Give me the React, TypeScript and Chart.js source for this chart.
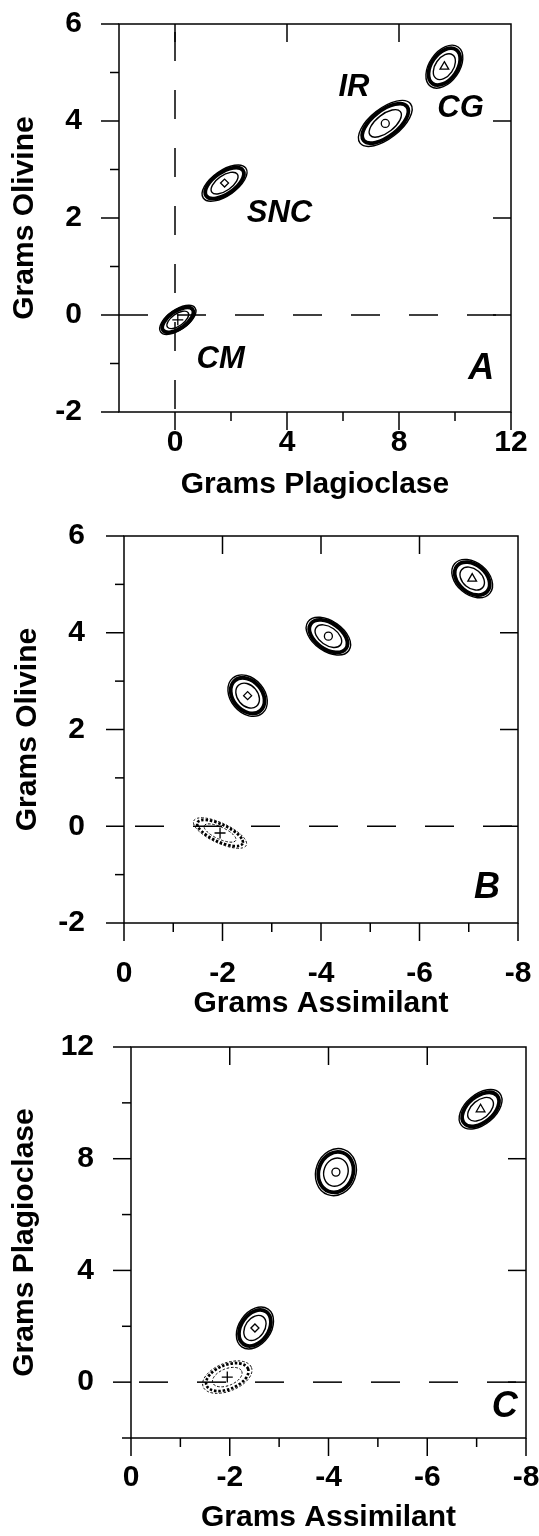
import React, { useEffect, useRef } from "react";
import { Chart, registerables } from "chart.js";

Chart.register(...registerables);

const FONT = '"Liberation Sans", Arial, Helvetica, sans-serif';

// ---------- data ----------
const sources = ["CM", "SNC", "IR", "CG"];
const markerStyles = ["cross", "rectRot", "circle", "triangle"];

// Panel A: Grams Plagioclase (x) vs Grams Olivine (y)
const plagA = [0.1, 1.77, 7.51, 9.62];
const olivA = [-0.1, 2.72, 3.95, 5.12];
// Panel B: Grams Assimilant (x) vs Grams Olivine (y)
const assimB = [-1.95, -2.51, -4.15, -7.07];
const olivB = [-0.14, 2.7, 3.93, 5.12];
// Panel C: Grams Assimilant (x) vs Grams Plagioclase (y)
const assimC = [-1.95, -2.51, -4.15, -7.08];
const plagC = [0.18, 1.94, 7.52, 9.77];

const xTicksA = [0, 4, 8, 12];
const xMinorA = [2, 6, 10];
const yTicksA = [-2, 0, 2, 4, 6];
const yMinorA = [-1, 1, 3, 5];
const xTicksBC = [0, -2, -4, -6, -8];
const xMinorBC = [-1, -3, -5, -7];
const yTicksB = [-2, 0, 2, 4, 6];
const yMinorB = [-1, 1, 3, 5];
const yTicksC = [0, 4, 8, 12];
const yMinorC = [-2, 2, 6, 10];

// source label positions in panel A (data units)
const labelXA = [1.63, 3.73, 6.39, 10.2];
const labelYA = [-0.92, 2.09, 4.7, 4.25];
// panel letter positions (data units)
const letters = ["A", "B", "C"];
const letterX = [10.94, -7.37, -7.57];
const letterY = [-1.12, -1.28, -0.91];

// ---------- styles ----------
// ellipse shapes in pixels: semi-major, semi-minor, rotation (deg)
const shapeA = [
  { a: 21, b: 10, ang: -35 },
  { a: 26, b: 12.5, ang: -35 },
  { a: 32, b: 15, ang: -38 },
  { a: 24, b: 15, ang: -55 },
];
const shapeB = [
  { a: 29, b: 10, ang: 25 },
  { a: 23, b: 17, ang: 50 },
  { a: 25, b: 15, ang: 35 },
  { a: 23, b: 16, ang: 40 },
];
const shapeC = [
  { a: 26, b: 14, ang: -22 },
  { a: 23, b: 16, ang: -55 },
  { a: 24, b: 20, ang: -70 },
  { a: 25, b: 15, ang: -40 },
];
const RINGS = [
  { k: 1.0, w: 1.4 },
  { k: 0.86, w: 3.8 },
  { k: 0.6, w: 1.4 },
];
const MAJ = 18;
const MIN = 9;

const decorPlugin = {
  id: "decor",
  afterDatasetsDraw(chart: any, _a: any, o: any) {
    const { ctx } = chart;
    const xs = chart.scales.x;
    const ys = chart.scales.y;
    ctx.save();
    ctx.strokeStyle = "#000";
    o.ellipses.forEach((e: any) => {
      const cx = xs.getPixelForValue(e.x);
      const cy = ys.getPixelForValue(e.y);
      RINGS.forEach((r) => {
        ctx.setLineDash(e.dotted ? [2.5, 1.8] : []);
        ctx.lineWidth = e.dotted ? r.w * 0.7 : r.w;
        ctx.beginPath();
        ctx.ellipse(cx, cy, e.a * r.k, e.b * r.k, (e.ang * Math.PI) / 180, 0, Math.PI * 2);
        ctx.stroke();
      });
    });
    ctx.setLineDash([]);
    ctx.fillStyle = "#000";
    ctx.textAlign = "center";
    ctx.textBaseline = "middle";
    o.texts.forEach((t: any) => {
      ctx.font = t.font;
      ctx.fillText(t.text, xs.getPixelForValue(t.x), ys.getPixelForValue(t.y));
    });
    ctx.restore();
  },
  afterDraw(chart: any, _a: any, o: any) {
    const { ctx, chartArea: ca } = chart;
    const xs = chart.scales.x;
    const ys = chart.scales.y;
    ctx.save();
    ctx.strokeStyle = "#000";
    ctx.lineWidth = 1.5;
    ctx.setLineDash([]);
    ctx.strokeRect(ca.left, ca.top, ca.right - ca.left, ca.bottom - ca.top);
    const line = (x1: number, y1: number, x2: number, y2: number) => {
      ctx.beginPath();
      ctx.moveTo(x1, y1);
      ctx.lineTo(x2, y2);
      ctx.stroke();
    };
    const inside = (p: number, a: number, b: number) => p > Math.min(a, b) + 3 && p < Math.max(a, b) - 3;
    o.xMajor.forEach((v: number) => {
      const p = xs.getPixelForValue(v);
      line(p, ca.bottom, p, ca.bottom + MAJ);
      if (inside(p, ca.left, ca.right)) line(p, ca.top, p, ca.top + MAJ);
    });
    o.xMinor.forEach((v: number) => {
      const p = xs.getPixelForValue(v);
      line(p, ca.bottom, p, ca.bottom + MIN);
    });
    o.yMajor.forEach((v: number) => {
      const p = ys.getPixelForValue(v);
      line(ca.left - MAJ, p, ca.left, p);
      if (inside(p, ca.top, ca.bottom)) line(ca.right - MAJ, p, ca.right, p);
    });
    o.yMinor.forEach((v: number) => {
      const p = ys.getPixelForValue(v);
      line(ca.left - MIN, p, ca.left, p);
    });
    ctx.restore();
  },
};

type PanelDef = {
  xs: number[];
  ys: number[];
  xMin: number;
  xMax: number;
  yMin: number;
  yMax: number;
  reverse: boolean;
  xTicks: number[];
  xMinor: number[];
  yTicks: number[];
  yMinor: number[];
  xTitle: string;
  yTitle: string;
  shapes: { a: number; b: number; ang: number }[];
  dottedCM: boolean;
  letter: number;
  showLabels: boolean;
  vDash: boolean;
  hDashOffset: number;
  layout: { yWidth: number; xHeight: number; top: number; right: number; yPad: number; xPad: number; yTitlePad: number; xTitlePad: number };
};

const panels: PanelDef[] = [
  {
    xs: plagA, ys: olivA, xMin: -2, xMax: 12, yMin: -2, yMax: 6, reverse: false,
    xTicks: xTicksA, xMinor: xMinorA, yTicks: yTicksA, yMinor: yMinorA,
    xTitle: "Grams Plagioclase", yTitle: "Grams Olivine",
    shapes: shapeA, dottedCM: false, letter: 0, showLabels: true, vDash: true, hDashOffset: 0,
    layout: { yWidth: 119, xHeight: 100, top: 24, right: 28, yPad: 29, xPad: 5, yTitlePad: 7, xTitlePad: 9 },
  },
  {
    xs: assimB, ys: olivB, xMin: -8, xMax: 0, yMin: -2, yMax: 6, reverse: true,
    xTicks: xTicksBC, xMinor: xMinorBC, yTicks: yTicksB, yMinor: yMinorB,
    xTitle: "Grams Assimilant", yTitle: "Grams Olivine",
    shapes: shapeB, dottedCM: true, letter: 1, showLabels: false, vDash: false, hDashOffset: 47,
    layout: { yWidth: 124, xHeight: 101, top: 24, right: 21, yPad: 31, xPad: 25, yTitlePad: 10, xTitlePad: 2 },
  },
  {
    xs: assimC, ys: plagC, xMin: -8, xMax: 0, yMin: -2, yMax: 12, reverse: true,
    xTicks: xTicksBC, xMinor: xMinorBC, yTicks: yTicksC, yMinor: yMinorC,
    xTitle: "Grams Assimilant", yTitle: "Grams Plagioclase",
    shapes: shapeC, dottedCM: true, letter: 2, showLabels: false, vDash: false, hDashOffset: 50,
    layout: { yWidth: 131, xHeight: 98, top: 23, right: 13, yPad: 29, xPad: 14, yTitlePad: 7, xTitlePad: 0 },
  },
];

function buildConfig(p: PanelDef): any {
  const datasets: any[] = sources.map((s, i) => ({
    label: s,
    data: [{ x: p.xs[i], y: p.ys[i] }],
    pointStyle: markerStyles[i],
    pointRadius: markerStyles[i] === "cross" ? 5.5 : markerStyles[i] === "triangle" ? 5 : 4,
    pointBorderColor: "#000",
    pointBackgroundColor: "#fff",
    pointBorderWidth: 1.3,
    showLine: false,
  }));
  // dashed zero reference lines
  const xStart = p.reverse ? p.xMax : p.xMin;
  const xEnd = p.reverse ? p.xMin : p.xMax;
  datasets.push({
    label: "zero-h",
    data: [{ x: xStart, y: 0 }, { x: xEnd, y: 0 }],
    showLine: true,
    borderColor: "#000",
    borderWidth: 1.5,
    borderDash: [29, 29],
    borderDashOffset: p.hDashOffset,
    pointRadius: 0,
  });
  if (p.vDash) {
    datasets.push({
      label: "zero-v",
      data: [{ x: 0, y: p.yMax }, { x: 0, y: p.yMin }],
      showLine: true,
      borderColor: "#000",
      borderWidth: 1.5,
      borderDash: [29, 29],
      borderDashOffset: 50,
      pointRadius: 0,
    });
  }
  const ellipses = sources.map((s, i) => ({
    x: p.xs[i],
    y: p.ys[i],
    ...p.shapes[i],
    dotted: p.dottedCM && s === "CM",
  }));
  const texts: any[] = [];
  if (p.showLabels) {
    sources.forEach((s, i) =>
      texts.push({ text: s, x: labelXA[i], y: labelYA[i], font: `italic bold 31px ${FONT}` })
    );
  }
  texts.push({
    text: letters[p.letter],
    x: letterX[p.letter],
    y: letterY[p.letter],
    font: `italic bold 36px ${FONT}`,
  });
  const L = p.layout;
  const tickFont = { family: FONT, size: 30, weight: "bold" as const };
  const titleFont = { family: FONT, size: 30, weight: "bold" as const };
  return {
    type: "scatter",
    data: { datasets },
    options: {
      animation: false,
      responsive: false,
      maintainAspectRatio: false,
      devicePixelRatio: 1,
      layout: { padding: { left: 0, right: L.right, top: L.top, bottom: 0 } },
      plugins: {
        legend: { display: false },
        tooltip: { enabled: false },
        decor: {
          ellipses,
          texts,
          xMajor: p.xTicks,
          xMinor: p.xMinor,
          yMajor: p.yTicks,
          yMinor: p.yMinor,
        },
      },
      scales: {
        x: {
          type: "linear",
          min: p.xMin,
          max: p.xMax,
          reverse: p.reverse,
          grid: { display: false },
          border: { display: false },
          afterBuildTicks: (s: any) => {
            s.ticks = p.xTicks.map((v) => ({ value: v }));
          },
          afterFit: (s: any) => {
            s.height = L.xHeight;
            s.paddingLeft = 0;
            s.paddingRight = 0;
          },
          ticks: {
            color: "#000",
            font: tickFont,
            padding: L.xPad,
            autoSkip: false,
            maxRotation: 0,
            callback: (v: any) => String(v),
          },
          title: {
            display: true,
            text: p.xTitle,
            color: "#000",
            font: titleFont,
            padding: { top: 0, bottom: L.xTitlePad },
          },
        },
        y: {
          type: "linear",
          min: p.yMin,
          max: p.yMax,
          grid: { display: false },
          border: { display: false },
          afterBuildTicks: (s: any) => {
            s.ticks = p.yTicks.map((v) => ({ value: v }));
          },
          afterFit: (s: any) => {
            s.width = L.yWidth;
            s.paddingTop = 0;
            s.paddingBottom = 0;
          },
          ticks: {
            color: "#000",
            font: tickFont,
            padding: L.yPad,
            autoSkip: false,
            callback: (v: any) => String(v),
          },
          title: {
            display: true,
            text: p.yTitle,
            color: "#000",
            font: titleFont,
            padding: { top: L.yTitlePad, bottom: 0 },
          },
        },
      },
    },
    plugins: [decorPlugin],
  };
}

export default function App() {
  const refA = useRef<HTMLCanvasElement | null>(null);
  const refB = useRef<HTMLCanvasElement | null>(null);
  const refC = useRef<HTMLCanvasElement | null>(null);

  useEffect(() => {
    const refs = [refA, refB, refC];
    const charts = panels.map((p, i) => new Chart(refs[i].current as HTMLCanvasElement, buildConfig(p)));
    return () => charts.forEach((c) => c.destroy());
  }, []);

  const canvasStyle = (top: number): React.CSSProperties => ({
    position: "absolute",
    left: 0,
    top,
    width: 539,
    height: 512,
    display: "block",
  });

  return (
    <div style={{ position: "absolute", left: 0, top: 0, width: 539, height: 1536, background: "#fff" }}>
      <canvas ref={refA} width={539} height={512} style={canvasStyle(0)} />
      <canvas ref={refB} width={539} height={512} style={canvasStyle(512)} />
      <canvas ref={refC} width={539} height={512} style={canvasStyle(1024)} />
    </div>
  );
}
